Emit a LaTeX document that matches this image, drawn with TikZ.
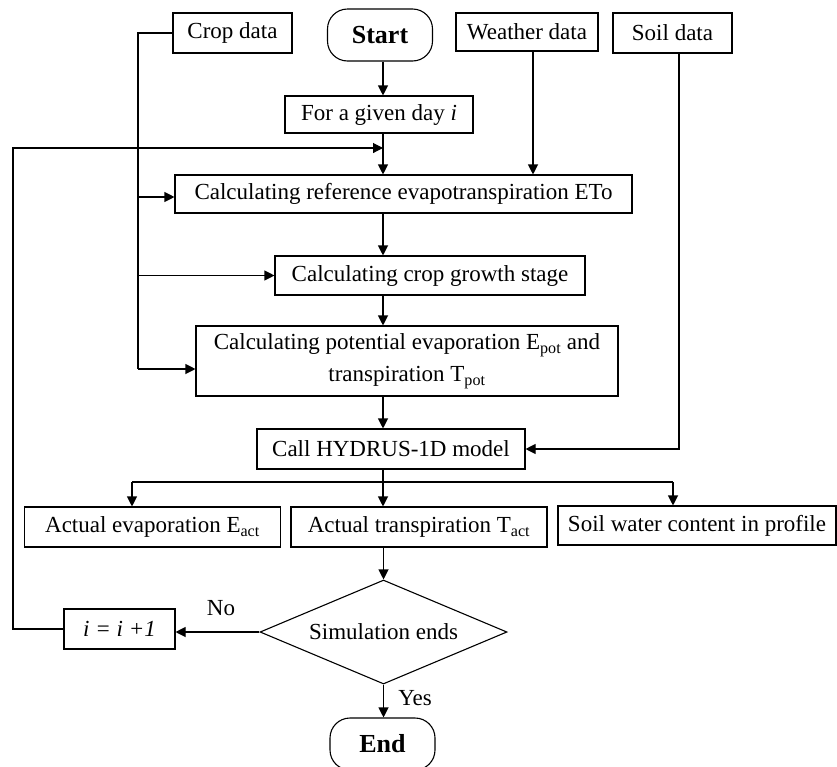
\documentclass[tikz,border=0pt]{standalone}
\usepackage{fontspec}
\setmainfont{Liberation Serif}
\usetikzlibrary{shapes.geometric,arrows.meta,calc}
\begin{document}
\begin{tikzpicture}[x=1pt,y=-1pt,
 box/.style={draw,line width=1.1pt,inner sep=0pt,font=\fontsize{23}{32}\selectfont,align=center},
 term/.style={draw,line width=1.1pt,rounded corners=20pt,inner sep=0pt,font=\fontsize{26}{30}\selectfont\bfseries},
 arr/.style={line width=1.1pt,-{Triangle[length=10pt,width=10pt]}},
 ln/.style={line width=1.1pt},
 lbl/.style={font=\fontsize{23}{27}\selectfont,inner sep=0pt}]
\useasboundingbox (0,0) rectangle (837,766);
\clip (0,0) rectangle (837,766);
% nodes
\node[box,minimum width=119pt,minimum height=40pt] (crop) at (232.5,33) {Crop data};
\node[term,minimum width=105pt,minimum height=52pt] (start) at (380,35) {Start};
\node[box,minimum width=142pt,minimum height=38pt] (weather) at (527,32) {Weather data};
\node[box,minimum width=119pt,minimum height=40pt] (soil) at (672.5,33) {Soil data};
\node[box,minimum width=188pt,minimum height=37pt] (day) at (379,114.5) {For a given day \textit{i}};
\node[box,minimum width=457pt,minimum height=38pt] (eto) at (403.5,194) {Calculating reference evapotranspiration ETo};
\node[box,minimum width=310pt,minimum height=39pt] (stage) at (430,275.5) {Calculating crop growth stage};
\node[box,minimum width=422pt,minimum height=70pt] (pot) at (407,361) {Calculating potential evaporation E\textsubscript{pot} and\\transpiration T\textsubscript{pot}};
\node[box,minimum width=268pt,minimum height=40pt] (hyd) at (391,449) {Call HYDRUS-1D model};
\node[box,minimum width=256pt,minimum height=40pt] (eact) at (152.5,527) {Actual evaporation E\textsubscript{act}};
\node[box,minimum width=256pt,minimum height=40pt] (tact) at (419,527) {Actual transpiration T\textsubscript{act}};
\node[box,minimum width=278pt,minimum height=39pt] (swc) at (697,525.5) {Soil water content in profile};
\node[box,shape=diamond,shape aspect=2.375,minimum width=247pt,minimum height=104pt] (dia) at (383.5,632) {Simulation ends};
\node[box,minimum width=111pt,minimum height=40pt] (inc) at (119.5,629) {\textit{i = i +1}};
\node[term,minimum width=105pt,minimum height=52pt] (endn) at (382.5,744) {End};
\node[lbl] (no) at (221,608) {No};
\node[lbl] (yes) at (415,698) {Yes};
% coordinates
\coordinate (colx) at (383,0);
\coordinate (cropL) at (138,33);
\coordinate (fbL) at (13,148);
\coordinate (fb) at (383,148);
\coordinate (br) at (383,482);
\coordinate (bl) at (132,482);
\coordinate (brr) at (673,482);
\coordinate (etoin) at ([yshift=-3pt]eto.west);
\coordinate (potin) at ([yshift=-8pt]pot.west);
\coordinate (wsrc) at ([xshift=6pt]weather.south);
\coordinate (ssrc) at ([xshift=6.5pt]soil.south);
% crop data feeds
\draw[ln] (crop.west) -- (cropL) -- (cropL |- potin);
\draw[arr] (cropL |- etoin) -- (etoin);
\draw[arr] (cropL |- stage.west) -- (stage.west);
\draw[arr] (cropL |- potin) -- (potin);
% weather and soil
\draw[arr] (wsrc) -- (wsrc |- eto.north);
\draw[arr] (ssrc) |- (hyd.east);
% main column
\draw[arr] (start.south -| colx) -- (day.north -| colx);
\draw[arr] (day.south -| colx) -- (eto.north -| colx);
\draw[arr] (eto.south -| colx) -- (stage.north -| colx);
\draw[arr] (stage.south -| colx) -- (pot.north -| colx);
\draw[arr] (pot.south -| colx) -- (hyd.north -| colx);
\draw[ln] (hyd.south -| colx) -- (br);
\draw[ln] (bl) -- (brr);
\draw[arr] (bl) -- (bl |- eact.north);
\draw[arr] (br) -- (br |- tact.north);
\draw[arr] (brr) -- (brr |- swc.north);
\draw[arr] (tact.south -| dia.north) -- (dia.north);
\draw[arr] (dia.west) -- (dia.west -| inc.east);
\draw[arr] (dia.south) -- (dia.south |- endn.north);
% feedback loop
\draw[arr] (inc.west) -| (fbL) -- (fb);
\end{tikzpicture}
\end{document}
